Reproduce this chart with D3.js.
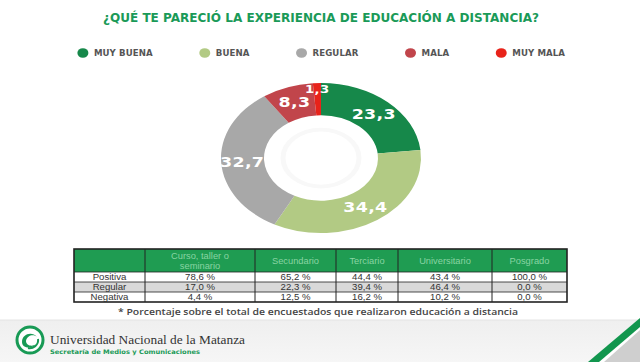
<!DOCTYPE html>
<html><head><meta charset="utf-8">
<script src="https://cdn.jsdelivr.net/npm/d3@7"></script>
<style>
html,body{margin:0;padding:0;background:#fff;}
svg{display:block;}
</style></head>
<body>
<svg id="chart" width="640" height="362"></svg>
<script>
// ---------- DATA ----------
const title = "¿QUÉ TE PARECIÓ LA EXPERIENCIA DE EDUCACIÓN A DISTANCIA?";
const categories = ["MUY BUENA", "BUENA", "REGULAR", "MALA", "MUY MALA"];
const values = [23.3, 34.4, 32.7, 8.3, 1.3];
const tableColumns = ["Curso, taller o seminario", "Secundario", "Terciario", "Universitario", "Posgrado"];
const tableRows = ["Positiva", "Regular", "Negativa"];
const positiva = [78.6, 65.2, 44.4, 43.4, 100.0];
const regular = [17.0, 22.3, 39.4, 46.4, 0.0];
const negativa = [4.4, 12.5, 16.2, 10.2, 0.0];
const footnote = "* Porcentaje sobre el total de encuestados que realizaron educación a distancia";
const orgName = "Universidad Nacional de la Matanza";
const orgSub = "Secretaría de Medios y Comunicaciones";

// ---------- STYLE ----------
const colors = ["#16884a", "#b2ca84", "#a8a8a8", "#c1454b", "#e8231a"];
const green = "#1a9a58";
const svg = d3.select("#chart");
const fmt = v => d3.format(".1f")(v).replace(".", ",");

// Title
svg.append("text").attr("x", 321).attr("y", 22).attr("text-anchor", "middle")
  .attr("font-family", "DejaVu Sans").attr("font-weight", "bold").attr("font-size", 12.5)
  .attr("fill", green).attr("textLength", 436).attr("lengthAdjust", "spacingAndGlyphs")
  .text(title);

// Legend (flow layout, centered)
const legendG = svg.append("g");
let lx = 0;
categories.forEach((c, i) => {
  const g = legendG.append("g");
  g.append("ellipse").attr("cx", 0).attr("cy", 0).attr("rx", 5.5).attr("ry", 4.8).attr("fill", colors[i]);
  const t = g.append("text").attr("x", 11).attr("y", 3.3)
    .attr("font-family", "DejaVu Sans").attr("font-weight", "bold").attr("font-size", 8.6)
    .attr("fill", "#555").attr("letter-spacing", 0.1).text(c);
  const w = t.node().getComputedTextLength();
  g.attr("transform", `translate(${lx},0)`);
  lx += 11 + w + 52;
});
const legendW = lx - 52;
legendG.attr("transform", `translate(${321 - legendW / 2 + 3},53)`);

// Donut (elliptical, as in reference)
const cx = 321, cy = 158, R = 100, sy = 0.75;
const pie = d3.pie().sort(null).value(d => d)(values);
const arc = d3.arc().innerRadius(57).outerRadius(R);
const dg = svg.append("g").attr("transform", `translate(${cx},${cy}) scale(1,${sy})`);
// faint watermark inside hole
dg.append("circle").attr("r", 38).attr("fill", "none").attr("stroke", "#f8f8f8").attr("stroke-width", 5);
dg.selectAll("path").data(pie).join("path")
  .attr("d", arc).attr("fill", (d, i) => colors[i]);

const labelArc = d3.arc().innerRadius(79).outerRadius(79);
const smallArc = d3.arc().innerRadius(92).outerRadius(92);
svg.append("g").selectAll("text").data(pie).join("text")
  .attr("transform", d => {
    const c = (d.data < 5 ? smallArc : labelArc).centroid(d);
    return `translate(${cx + c[0]},${cy + c[1] * sy}) scale(1.2,1)`;
  })
  .attr("text-anchor", "middle").attr("dy", "0.36em")
  .attr("font-family", "DejaVu Sans").attr("font-weight", "bold")
  .attr("font-size", d => d.data < 5 ? 11 : 14.5)
  .attr("letter-spacing", 0.3)
  .attr("fill", "#fff").text(d => fmt(d.data));

// Table
const colEdges = [74, 145, 255, 336, 398, 492, 567];
const rowEdges = [249, 272, 282, 292, 302];
const rowsData = [positiva, regular, negativa];
const tg = svg.append("g");
tg.append("rect").attr("x", colEdges[0]).attr("y", rowEdges[0])
  .attr("width", colEdges[6] - colEdges[0]).attr("height", rowEdges[1] - rowEdges[0]).attr("fill", "#1f9c52");
tableRows.forEach((r, i) => {
  tg.append("rect").attr("x", colEdges[0]).attr("y", rowEdges[i + 1])
    .attr("width", colEdges[6] - colEdges[0]).attr("height", rowEdges[i + 2] - rowEdges[i + 1])
    .attr("fill", i === 1 ? "#d9d9d9" : "#fff");
});
colEdges.slice(1, 6).forEach(x => tg.append("line").attr("x1", x).attr("x2", x)
  .attr("y1", rowEdges[0]).attr("y2", rowEdges[4]).attr("stroke", "#222").attr("stroke-width", 1));
rowEdges.slice(1, 4).forEach(y => tg.append("line").attr("x1", colEdges[0]).attr("x2", colEdges[6])
  .attr("y1", y).attr("y2", y).attr("stroke", "#222").attr("stroke-width", 0.8));
tg.append("rect").attr("x", colEdges[0]).attr("y", rowEdges[0])
  .attr("width", colEdges[6] - colEdges[0]).attr("height", rowEdges[4] - rowEdges[0])
  .attr("fill", "none").attr("stroke", "#222").attr("stroke-width", 1.6);
tableColumns.forEach((c, j) => {
  const x = (colEdges[j + 1] + colEdges[j + 2]) / 2;
  const t = tg.append("text").attr("x", x).attr("text-anchor", "middle")
    .attr("font-family", "Liberation Sans").attr("font-size", 9.3).attr("fill", "#88d4a2");
  if (c.length > 15) {
    const words = c.split(" ");
    t.append("tspan").attr("x", x).attr("y", 258.5).text(words.slice(0, 3).join(" "));
    t.append("tspan").attr("x", x).attr("y", 268.5).text(words.slice(3).join(" "));
  } else {
    t.attr("y", 264).text(c);
  }
});
tableRows.forEach((r, i) => {
  const y = (rowEdges[i + 1] + rowEdges[i + 2]) / 2 + 3.4;
  tg.append("text").attr("x", (colEdges[0] + colEdges[1]) / 2).attr("y", y).attr("text-anchor", "middle")
    .attr("font-family", "Liberation Sans").attr("font-size", 9.6).attr("fill", "#333").text(r);
  rowsData[i].forEach((v, j) => {
    tg.append("text").attr("x", (colEdges[j + 1] + colEdges[j + 2]) / 2).attr("y", y).attr("text-anchor", "middle")
      .attr("font-family", "Liberation Sans").attr("font-size", 9.6).attr("fill", "#333").text(fmt(v) + " %");
  });
});

// Footnote
svg.append("text").attr("x", 318).attr("y", 315).attr("text-anchor", "middle")
  .attr("font-family", "Open Sans").attr("font-weight", 600).attr("font-size", 8.3)
  .attr("fill", "#444").attr("textLength", 400).attr("lengthAdjust", "spacingAndGlyphs").text(footnote);

// Footer band
const defs = svg.append("defs");
const lg = defs.append("linearGradient").attr("id", "fg").attr("x1", 0).attr("x2", 0).attr("y1", 0).attr("y2", 1);
lg.append("stop").attr("offset", 0).attr("stop-color", "#efefef");
lg.append("stop").attr("offset", 1).attr("stop-color", "#f6f6f6");
svg.append("rect").attr("x", 0).attr("y", 320).attr("width", 640).attr("height", 42).attr("fill", "url(#fg)");
svg.append("line").attr("x1", 0).attr("x2", 640).attr("y1", 320).attr("y2", 320).attr("stroke", "#e4e4e4");

// Corner decoration
svg.append("path").attr("d", "M640,320 L640,362 L590,362 Z").attr("fill", "#fff");
svg.append("path").attr("d", "M640,330 L640,362 L604,362 Z").attr("fill", "#cfcfcf");
svg.append("path").attr("d", "M640,318 L640,327 L599,362 L588,362 Z").attr("fill", "#12964e");

// Logo
const logo = svg.append("g").attr("transform", "translate(30,340)");
logo.append("circle").attr("r", 13).attr("fill", "#fff").attr("stroke", "#189a55").attr("stroke-width", 3);
logo.append("path").attr("d", "M-8,2 C-8,-6 2,-9 7,-3 C4,-6 -3,-5 -4,1 C-4,6 3,7 6,4 C3,9 -8,9 -8,2 Z").attr("fill", "#189a55");
logo.append("path").attr("d", "M8,-1 C9,5 3,9 -2,8").attr("fill", "none").attr("stroke", "#189a55").attr("stroke-width", 2);

svg.append("text").attr("x", 50).attr("y", 344).attr("font-family", "Liberation Serif")
  .attr("font-size", 13.5).attr("fill", "#333").attr("textLength", 195).attr("lengthAdjust", "spacingAndGlyphs").text(orgName);
svg.append("text").attr("x", 50).attr("y", 353.5).attr("font-family", "DejaVu Sans").attr("font-weight", "bold")
  .attr("font-size", 6.2).attr("fill", "#1a9a58").attr("textLength", 150).attr("lengthAdjust", "spacingAndGlyphs").text(orgSub);
</script>
</body></html>
